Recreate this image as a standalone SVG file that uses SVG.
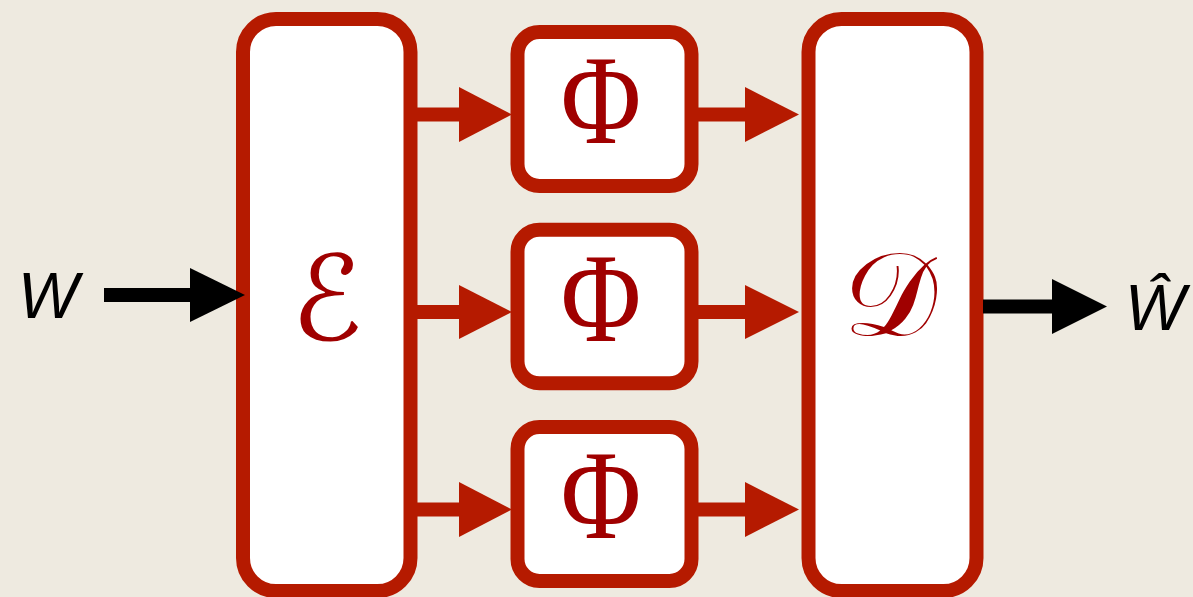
<svg xmlns="http://www.w3.org/2000/svg" width="1193" height="597" viewBox="0 0 1193 597">
<defs>
<style>
.box{fill:#ffffff;stroke:#b51a00;stroke-width:14}
.red{stroke:#b51a00;stroke-width:14;fill:none}
.blk{stroke:#000;stroke-width:14;fill:none}
.ah{fill:#b51a00}
.ahb{fill:#000}
.phi{font-family:"Liberation Serif",serif;font-size:128px;fill:#a00000;text-anchor:middle}
.cal{font-family:"DejaVu Serif","DejaVu Sans",serif;font-size:118px;fill:#a00000;text-anchor:middle}
.var{font-family:"Liberation Sans",sans-serif;font-style:italic;font-size:64px;fill:#000}
</style>
</defs>
<rect width="1193" height="597" fill="#eeeae0"/>
<g id="encoder"><rect class="box" x="243" y="19" width="167.5" height="572" rx="33"/><text class="cal" x="327" y="340">ℰ</text></g>
<g id="decoder"><rect class="box" x="808.5" y="19" width="168" height="572" rx="33"/><text class="cal" x="890" y="335">𝒟</text></g>
<g id="phi1"><rect class="box" x="517.5" y="32" width="174" height="154" rx="22"/><text class="phi" transform="translate(601,143) scale(0.86,1)">Φ</text></g>
<g id="phi2"><rect class="box" x="517.5" y="229.7" width="174" height="153.6" rx="22"/><text class="phi" transform="translate(601,341) scale(0.86,1)">Φ</text></g>
<g id="phi3"><rect class="box" x="517.5" y="427" width="174" height="154" rx="22"/><text class="phi" transform="translate(601,538) scale(0.86,1)">Φ</text></g>
<g id="input"><text class="var" x="18" y="318">W</text></g>
<g id="output"><text class="var" x="1125" y="330">Ŵ</text></g>
<g id="connectors">
<line class="red" x1="417" y1="114.5" x2="462" y2="114.5"/><polygon class="ah" points="459,87 512,114.5 459,142"/>
<line class="red" x1="417" y1="312" x2="462" y2="312"/><polygon class="ah" points="459,285 512,312 459,339"/>
<line class="red" x1="417" y1="509.5" x2="462" y2="509.5"/><polygon class="ah" points="459,482 512,509.5 459,537"/>
<line class="red" x1="697" y1="114.5" x2="748" y2="114.5"/><polygon class="ah" points="745,87 799,114.5 745,142"/>
<line class="red" x1="697" y1="312" x2="748" y2="312"/><polygon class="ah" points="745,285 799,312 745,339"/>
<line class="red" x1="697" y1="509.5" x2="748" y2="509.5"/><polygon class="ah" points="745,482 799,509.5 745,537"/>
<line class="blk" x1="104" y1="295" x2="193" y2="295"/><polygon class="ahb" points="190,268 245,295 190,322"/>
<line class="blk" x1="983" y1="306.5" x2="1055" y2="306.5"/><polygon class="ahb" points="1052,279 1107,306.5 1052,334"/>
</g>
</svg>
